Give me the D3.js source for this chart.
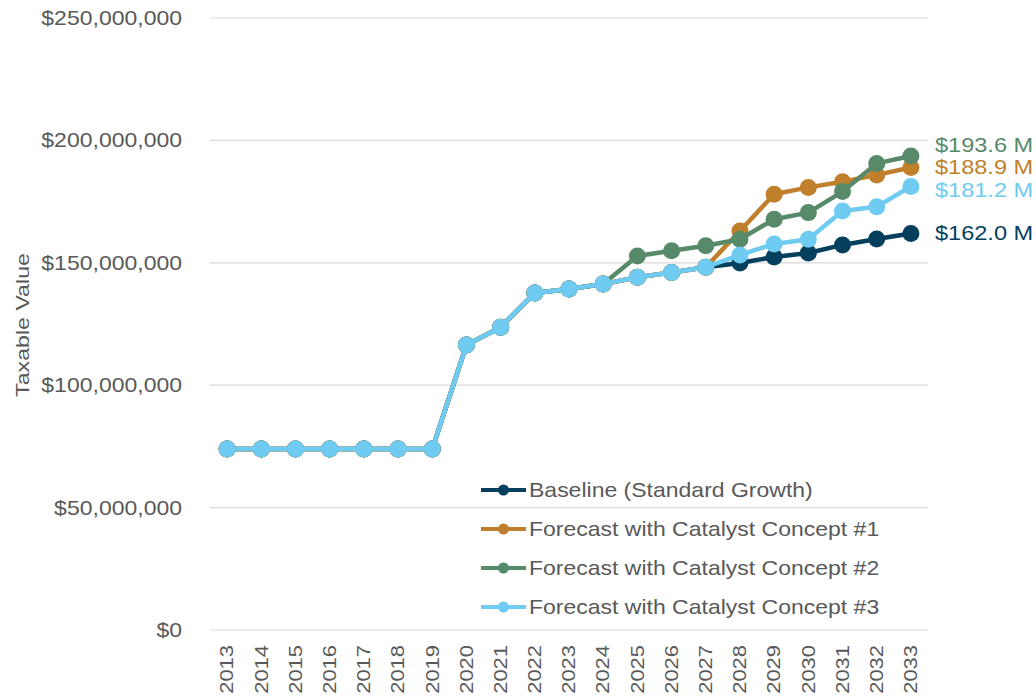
<!DOCTYPE html>
<html>
<head>
<meta charset="utf-8">
<script src="https://cdnjs.cloudflare.com/ajax/libs/d3/7.8.5/d3.min.js"></script>
<style>
  body { margin: 0; background: #fff; }
  text { font-family: "Liberation Sans", Arial, sans-serif; }
</style>
</head>
<body>
<div id="chart"></div>
<script>
// data (values in $M)
var years = ["2013","2014","2015","2016","2017","2018","2019","2020","2021","2022","2023",
             "2024","2025","2026","2027","2028","2029","2030","2031","2032","2033"];

var baseline = [73.9,73.9,73.9,73.9,73.9,73.9,73.9,116.4,123.7,137.7,139.3,
                141.3,144.1,146.0,148.2,149.9,152.4,154.0,157.3,159.7,162.0];
var concept1 = [73.9,73.9,73.9,73.9,73.9,73.9,73.9,116.4,123.7,137.7,139.3,
                141.3,144.1,146.0,148.2,163.0,178.0,180.8,183.1,185.9,188.9];
var concept2 = [73.9,73.9,73.9,73.9,73.9,73.9,73.9,116.4,123.7,137.7,139.3,
                141.3,152.8,154.9,157.0,159.6,167.8,170.5,179.1,190.6,193.6];
var concept3 = [73.9,73.9,73.9,73.9,73.9,73.9,73.9,116.4,123.7,137.7,139.3,
                141.3,144.1,146.0,148.2,153.2,157.7,159.6,171.2,172.9,181.2];

var seriesNames = ["Baseline (Standard Growth)", "Forecast with Catalyst Concept #1",
                   "Forecast with Catalyst Concept #2", "Forecast with Catalyst Concept #3"];
var seriesColors = ["#053f5e", "#c07f2a", "#578a69", "#6fcbf1"];
var endLabels = ["$162.0 M", "$188.9 M", "$193.6 M", "$181.2 M"];
var yTicks = [0, 50, 100, 150, 200, 250];

var allSeries = [baseline, concept1, concept2, concept3];

var width = 1036, height = 699;
var margin = { top: 18, right: 108, bottom: 69, left: 210 };

var svg = d3.select("#chart").append("svg")
    .attr("width", width)
    .attr("height", height);

var x = d3.scaleBand()
    .domain(years)
    .range([margin.left, width - margin.right]);

var y = d3.scaleLinear()
    .domain([0, 250])
    .range([height - margin.bottom, margin.top]);

// gridlines
svg.append("g")
    .selectAll("line")
    .data(yTicks)
    .enter()
    .append("line")
    .attr("x1", margin.left)
    .attr("x2", width - margin.right)
    .attr("y1", function (d) { return y(d) })
    .attr("y2", function (d) { return y(d) })
    .attr("stroke", "#d9d9d9")
    .attr("stroke-width", 1.2);

// y tick labels (text in the original is a bit wider than Liberation Sans)
var fmt = d3.format(",");
svg.append("g")
    .selectAll("text")
    .data(yTicks)
    .enter()
    .append("text")
    .attr("transform", function (d) { return "translate(182," + y(d) + ") scale(1.15,1)" })
    .attr("dy", "0.35em")
    .attr("text-anchor", "end")
    .style("font-size", "20px")
    .style("fill", "#595959")
    .text(function (d) { return "$" + fmt(d * 1000000) });

// y axis title
svg.append("text")
    .attr("transform", "translate(29," + (y(125) + 1) + ") rotate(-90) scale(1.22,1)")
    .attr("text-anchor", "middle")
    .style("font-size", "19px")
    .style("fill", "#595959")
    .text("Taxable Value");

// x tick labels
svg.append("g")
    .selectAll("text")
    .data(years)
    .enter()
    .append("text")
    .attr("transform", function (d) {
        return "translate(" + (x(d) + x.bandwidth() / 2) + "," + (height - margin.bottom + 15) + ") rotate(-90) scale(1.22,1)";
    })
    .attr("dy", "0.35em")
    .attr("text-anchor", "end")
    .style("font-size", "18px")
    .style("fill", "#595959")
    .text(function (d) { return d });

var line = d3.line()
    .x(function (d, i) { return x(years[i]) + x.bandwidth() / 2 })
    .y(function (d) { return y(d) });

// lines and points
allSeries.forEach(function (s, k) {
    var g = svg.append("g");
    g.append("path")
        .datum(s)
        .attr("fill", "none")
        .attr("stroke", seriesColors[k])
        .attr("stroke-width", 4.5)
        .attr("stroke-linejoin", "round")
        .attr("d", line);
    g.selectAll("circle")
        .data(s)
        .enter()
        .append("circle")
        .attr("cx", function (d, i) { return x(years[i]) + x.bandwidth() / 2 })
        .attr("cy", function (d) { return y(d) })
        .attr("r", 8.5)
        .attr("fill", seriesColors[k]);
});

// end labels
var labelY = [233, 167, 145, 190];
var labelX = x(years[years.length - 1]) + x.bandwidth() / 2 + 24;
svg.append("g")
    .selectAll("text")
    .data(endLabels)
    .enter()
    .append("text")
    .attr("transform", function (d, i) { return "translate(" + labelX + "," + labelY[i] + ") scale(1.18,1)" })
    .attr("dy", "0.35em")
    .style("font-size", "20px")
    .style("fill", function (d, i) { return seriesColors[i] })
    .text(function (d) { return d });

// legend
var legend = svg.append("g")
    .selectAll("g")
    .data(seriesNames)
    .enter()
    .append("g")
    .attr("transform", function (d, i) { return "translate(481," + (490 + i * 39) + ")" });

legend.append("line")
    .attr("x1", 0).attr("x2", 45)
    .attr("stroke", function (d, i) { return seriesColors[i] })
    .attr("stroke-width", 4);
legend.append("circle")
    .attr("cx", 22.5)
    .attr("r", 5.5)
    .attr("fill", function (d, i) { return seriesColors[i] });
legend.append("text")
    .attr("transform", "translate(48,0) scale(1.15,1)")
    .attr("dy", "0.35em")
    .style("font-size", "20px")
    .style("fill", "#595959")
    .text(function (d) { return d });
</script>
</body>
</html>
